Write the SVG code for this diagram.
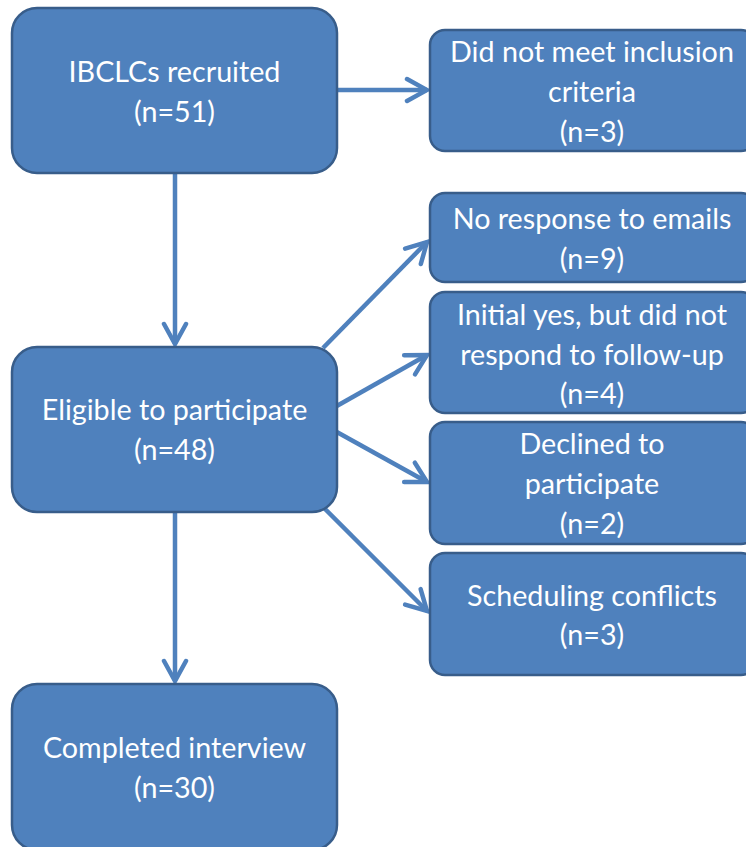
<svg xmlns="http://www.w3.org/2000/svg" width="746" height="847" viewBox="0 0 746 847">
<style>
.box{fill:#4f81bd;stroke:#385d8a;stroke-width:2.5}
.t{font-family:Lato,"Liberation Sans",sans-serif;font-size:28.7px;fill:#ffffff;text-anchor:middle}
.c{stroke:#4f81bd;stroke-width:4.5;fill:none;marker-end:url(#ah)}
</style>
<defs>
<marker id="ah" markerUnits="userSpaceOnUse" viewBox="-26 -16 30 32" refX="0" refY="0" markerWidth="30" markerHeight="32" orient="auto">
<path d="M-20,-11 L0,0 L-20,11" fill="none" stroke="#4f81bd" stroke-width="4.5" stroke-linecap="round" stroke-linejoin="miter"/>
</marker>
</defs>
<rect width="746" height="847" fill="#ffffff"/>
<g id="connectors">
<line class="c" x1="337" y1="90" x2="427" y2="90"/>
<line class="c" x1="175" y1="173" x2="175" y2="344"/>
<line class="c" x1="175" y1="512" x2="175" y2="681"/>
<line class="c" x1="323" y1="348" x2="427" y2="242"/>
<line class="c" x1="335" y1="407" x2="427" y2="355"/>
<line class="c" x1="335" y1="431" x2="427" y2="482"/>
<line class="c" x1="323" y1="507" x2="427" y2="611"/>
</g>
<g id="recruited">
<rect class="box" x="12" y="8" width="325" height="165" rx="25"/>
<text class="t" x="174.5" y="82">IBCLCs recruited</text>
<text class="t" x="174.5" y="122">(n=51)</text>
</g>
<g id="eligible">
<rect class="box" x="12" y="347" width="325" height="165" rx="25"/>
<text class="t" x="174.5" y="420">Eligible to participate</text>
<text class="t" x="174.5" y="460">(n=48)</text>
</g>
<g id="completed">
<rect class="box" x="12" y="684" width="325" height="166" rx="25"/>
<text class="t" x="174.5" y="758">Completed interview</text>
<text class="t" x="174.5" y="798">(n=30)</text>
</g>
<g id="inclusion">
<rect class="box" x="430" y="30" width="326" height="121" rx="15"/>
<text class="t" x="592" y="62">Did not meet inclusion</text>
<text class="t" x="592" y="102">criteria</text>
<text class="t" x="592" y="142">(n=3)</text>
</g>
<g id="noresponse">
<rect class="box" x="430" y="193" width="326" height="89" rx="15"/>
<text class="t" x="592" y="229">No response to emails</text>
<text class="t" x="592" y="269">(n=9)</text>
</g>
<g id="initialyes">
<rect class="box" x="430" y="292" width="326" height="121" rx="15"/>
<text class="t" x="592" y="325">Initial yes, but did not</text>
<text class="t" x="592" y="365">respond to follow-up</text>
<text class="t" x="592" y="404">(n=4)</text>
</g>
<g id="declined">
<rect class="box" x="430" y="422" width="326" height="122" rx="15"/>
<text class="t" x="592" y="454">Declined to</text>
<text class="t" x="592" y="494">participate</text>
<text class="t" x="592" y="534">(n=2)</text>
</g>
<g id="scheduling">
<rect class="box" x="430" y="553" width="326" height="122" rx="15"/>
<text class="t" x="592" y="606">Scheduling conflicts</text>
<text class="t" x="592" y="645">(n=3)</text>
</g>
</svg>
